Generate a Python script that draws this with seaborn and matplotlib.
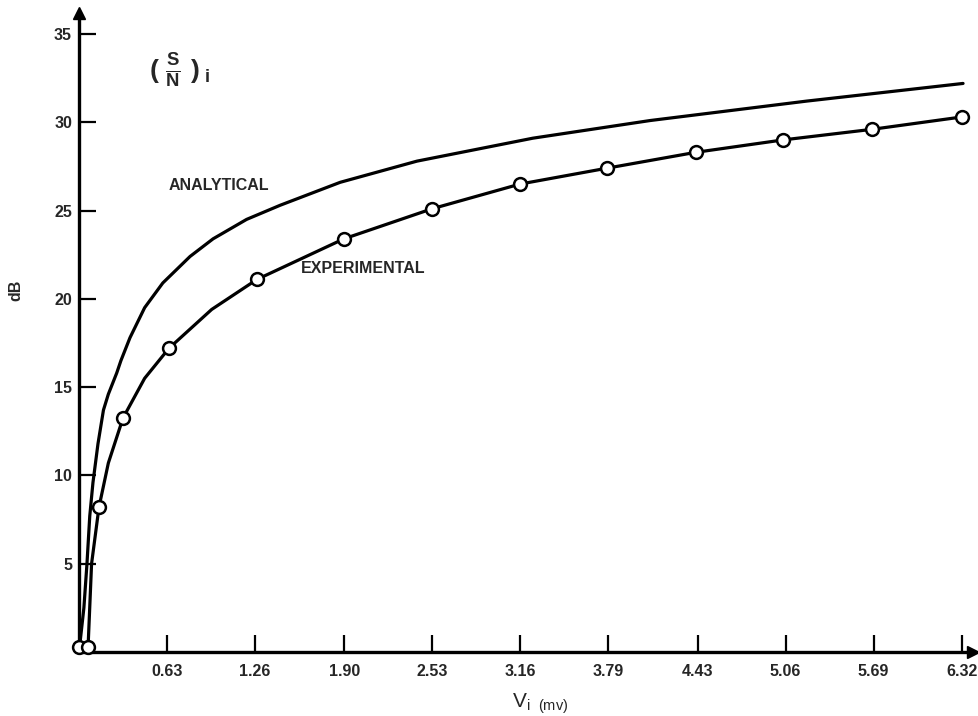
import matplotlib

matplotlib.use("Agg")
import matplotlib.pyplot as plt
import seaborn as sns

# Values (x in mV, y in dB)
tick_positions = [0.63, 1.26, 1.90, 2.53, 3.16, 3.79, 4.43, 5.06, 5.69, 6.32]
tick_labels = ["0.63", "1.26", "1.90", "2.53", "3.16", "3.79", "4.43", "5.06", "5.69", "6.32"]
y_ticks = [5, 10, 15, 20, 25, 30, 35]

analytical_x = [0.0, 0.035, 0.057, 0.077, 0.10, 0.136, 0.175, 0.21, 0.27, 0.30,
                0.365, 0.47, 0.60, 0.795, 0.96, 1.20, 1.44, 1.87, 2.42, 3.25,
                4.09, 5.21, 6.33]
analytical_y = [0.0, 2.5, 5.0, 7.7, 9.6, 11.8, 13.7, 14.6, 15.8, 16.5,
                17.8, 19.5, 20.9, 22.4, 23.4, 24.5, 25.3, 26.6, 27.8, 29.1,
                30.1, 31.2, 32.2]

# experimental curve as traced, and the measured points (circles)
exp_line_x = [0.0, 0.065, 0.09, 0.143, 0.21, 0.315, 0.47, 0.644, 0.95, 1.274,
              1.897, 2.527, 3.157, 3.78, 4.417, 5.04, 5.677, 6.32]
exp_line_y = [0.3, 0.3, 5.0, 8.2, 10.7, 13.25, 15.5, 17.2, 19.4, 21.1,
              23.4, 25.1, 26.5, 27.4, 28.3, 29.0, 29.6, 30.3]
exp_points_x = [0.0, 0.065, 0.143, 0.315, 0.644, 1.274, 1.897, 2.527, 3.157,
                3.78, 4.417, 5.04, 5.677, 6.32]
exp_points_y = [0.3, 0.3, 8.2, 13.25, 17.2, 21.1, 23.4, 25.1, 26.5, 27.4,
                28.3, 29.0, 29.6, 30.3]

sns.set_style("white")
plt.rcParams["font.family"] = ["Liberation Sans", "DejaVu Sans"]
plt.rcParams["mathtext.fontset"] = "custom"
plt.rcParams["mathtext.rm"] = "Liberation Sans:bold"
plt.rcParams["mathtext.it"] = "Liberation Sans:bold"

fig = plt.figure(figsize=(9.79, 7.16), dpi=100)
ax = fig.add_axes([0.0807, 0.0894, 0.913, 0.8927])

sns.lineplot(x=analytical_x, y=analytical_y, ax=ax, color="black", lw=2.3,
             sort=False, estimator=None)
sns.lineplot(x=exp_line_x, y=exp_line_y, ax=ax, color="black", lw=2.3,
             sort=False, estimator=None)
sns.scatterplot(x=exp_points_x, y=exp_points_y, ax=ax, marker="o", s=85,
                facecolor="white", edgecolor="black", linewidth=1.8, zorder=3,
                clip_on=False)

ax.set_xlim(0, 6.4)
ax.set_ylim(0, 36.2)

for side in ["top", "right"]:
    ax.spines[side].set_visible(False)
for side in ["left", "bottom"]:
    ax.spines[side].set_linewidth(2.4)
    ax.spines[side].set_color("black")

# arrow heads at the ends of the axes
ax.plot(1, 0, ">k", markersize=9, transform=ax.get_yaxis_transform(), clip_on=False)
ax.plot(0, 1, "^k", markersize=9, transform=ax.get_xaxis_transform(), clip_on=False)

ax.set_xticks(tick_positions)
ax.set_xticklabels(tick_labels)
ax.set_yticks(y_ticks)
ax.tick_params(axis="both", direction="in", length=12, width=1.6, color="black",
               labelsize=11.5, bottom=True, left=True)
ax.tick_params(axis="x", pad=9)
ax.tick_params(axis="y", pad=5)
for lbl in ax.get_xticklabels() + ax.get_yticklabels():
    lbl.set_fontweight("bold")

ax.set_ylabel("dB", fontsize=11.5, fontweight="bold")
ax.yaxis.set_label_coords(-0.062, 0.566)
ax.set_xlabel(r"$\mathregular{V_{i\ \ (mv)}}$", fontsize=15)
ax.xaxis.set_label_coords(0.516, -0.062)

ax.text(0.72, 32.9, r"$(\ \frac{S}{N}\ )_{\ i}$", fontsize=19, ha="center", va="center")
ax.text(0.64, 26.4, "ANALYTICAL", fontsize=11.5, fontweight="bold", ha="left", va="center")
ax.text(1.59, 21.7, "EXPERIMENTAL", fontsize=11.5, fontweight="bold", ha="left", va="center")

fig.savefig("out.png", dpi=100)
